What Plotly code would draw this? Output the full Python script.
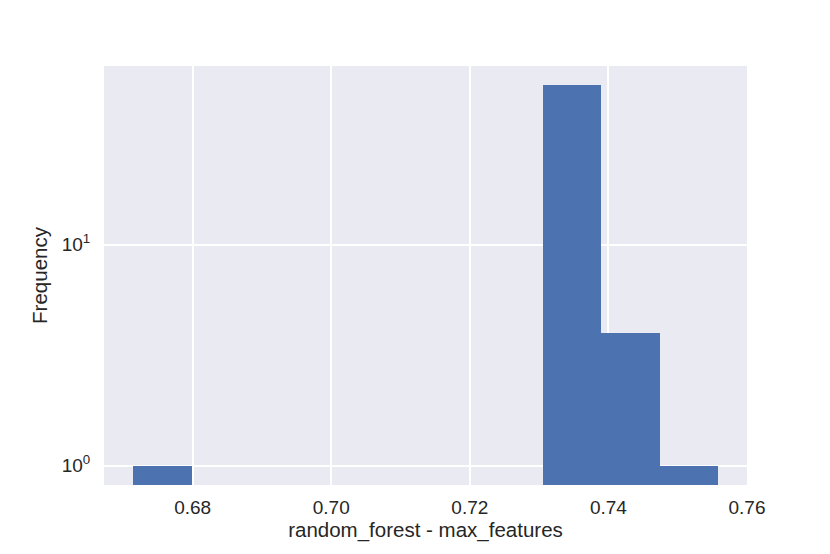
import plotly.graph_objects as go

bin_start = 0.67142
bin_width = 0.00844
counts = [1, 0, 0, 0, 0, 0, 0, 53, 4, 1]
x_ticks = [0.68, 0.70, 0.72, 0.74, 0.76]
x_ticktext = ["0.68", "0.70", "0.72", "0.74", "0.76"]
y_ticks = [1, 10]
y_ticktext = ["10<sup>0</sup>", "10<sup>1</sup>"]

centers = [bin_start + bin_width * (i + 0.5) for i in range(len(counts))]
yvals = [c if c > 0 else None for c in counts]

fig = go.Figure()
fig.add_trace(go.Bar(
    x=centers, y=yvals, width=[bin_width] * len(counts),
    marker=dict(color="#4c72b0", line=dict(width=0)),
))

font = "Liberation Sans, Arial, sans-serif"
# page body has an 8px margin; compensate so the plot area lands where the reference has it
fig.update_layout(
    width=830, height=554,
    margin=dict(l=96, r=91, t=58, b=77),
    paper_bgcolor="white", plot_bgcolor="#eaeaf2",
    showlegend=False, bargap=0,
    font=dict(family=font, color="#262626", size=19),
    xaxis=dict(
        range=[0.66721, 0.760005], tickvals=x_ticks, ticktext=x_ticktext,
        showgrid=True, gridcolor="white", gridwidth=1.6, zeroline=False,
        ticks="outside", ticklen=5, tickcolor="rgba(0,0,0,0)",
        tickfont=dict(size=19), showline=False, automargin=False,
        title=dict(text="random_forest - max_features", font=dict(size=20.5), standoff=4),
    ),
    yaxis=dict(
        type="log", range=[-0.0875, 1.808], tickvals=y_ticks, ticktext=y_ticktext,
        showgrid=True, gridcolor="white", gridwidth=1.6, zeroline=False,
        ticks="outside", ticklen=9, tickcolor="rgba(0,0,0,0)",
        tickfont=dict(size=19), showline=False, automargin=False,
        title=dict(text="Frequency", font=dict(size=20.5), standoff=8),
    ),
)

fig.write_html("out.html")
